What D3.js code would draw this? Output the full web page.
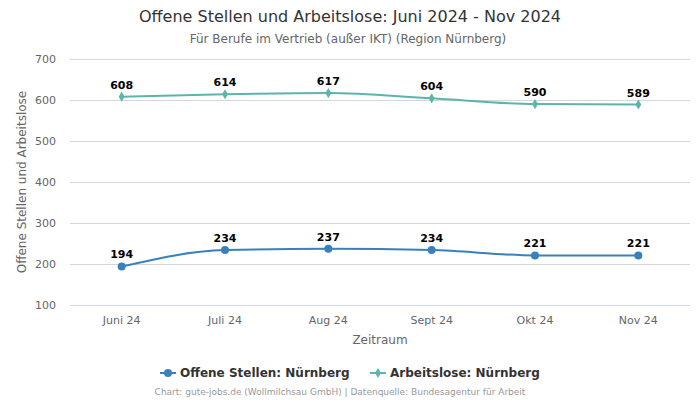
<!DOCTYPE html>
<html><head><meta charset="utf-8">
<script src="https://cdn.jsdelivr.net/npm/d3@7"></script>
<style>body{margin:0;background:#fff;font-family:"DejaVu Sans",sans-serif}</style>
</head><body><svg id="c" width="700" height="400"></svg>
<script>
const categories = ["Juni 24","Juli 24","Aug 24","Sept 24","Okt 24","Nov 24"];
const offeneStellen = [194,234,237,234,221,221];
const arbeitslose = [608,614,617,604,590,589];
const yTicks = [100,200,300,400,500,600,700];
const seriesNames = ["Offene Stellen: Nürnberg","Arbeitslose: Nürnberg"];
const colors = ["#3a80bd","#5bb5ad"];

const svg = d3.select("#c");
const m = {l:70,r:690,t:59,b:305};
const x = d3.scaleBand().domain(categories).range([m.l,m.r]);
const y = d3.scaleLinear().domain([100,700]).range([m.b,m.t]);
const cx = d => x(d) + x.bandwidth()/2;

svg.append("text").attr("x",350).attr("y",22).attr("text-anchor","middle")
  .attr("font-size",16).attr("fill","#333").text("Offene Stellen und Arbeitslose: Juni 2024 - Nov 2024");
svg.append("text").attr("x",348).attr("y",43).attr("text-anchor","middle")
  .attr("font-size",12).attr("fill","#666").text("Für Berufe im Vertrieb (außer IKT) (Region Nürnberg)");

// grid
svg.append("g").selectAll("line").data(yTicks.slice(1)).join("line")
  .attr("x1",m.l).attr("x2",m.r).attr("y1",d=>y(d)).attr("y2",d=>y(d))
  .attr("stroke","#d6d6d6").attr("stroke-width",1).attr("shape-rendering","crispEdges");
svg.append("line").attr("x1",m.l).attr("x2",m.r).attr("y1",y(100)).attr("y2",y(100))
  .attr("stroke","#ccd6eb").attr("shape-rendering","crispEdges");

const ya = svg.append("g").attr("transform",`translate(${m.l},0)`)
  .call(d3.axisLeft(y).tickValues(yTicks).tickSize(0).tickPadding(14));
ya.select(".domain").remove();
ya.selectAll("text").attr("font-size",11).attr("fill","#666").attr("font-family","DejaVu Sans");

const xa = svg.append("g").attr("transform",`translate(0,${m.b})`)
  .call(d3.axisBottom(x).tickSize(0).tickPadding(11));
xa.select(".domain").remove();
xa.selectAll("text").attr("font-size",11).attr("fill","#666").attr("font-family","DejaVu Sans");

svg.append("text").attr("x",380).attr("y",344).attr("text-anchor","middle")
  .attr("font-size",12).attr("fill","#666").text("Zeitraum");
svg.append("text").attr("transform","translate(26,182) rotate(-90)").attr("text-anchor","middle")
  .attr("font-size",12).attr("fill","#666").text("Offene Stellen und Arbeitslose");

const line = d3.line().x((d,i)=>cx(categories[i])).y(d=>y(d)).curve(d3.curveMonotoneX);
[offeneStellen, arbeitslose].forEach((vals,si)=>{
  svg.append("path").attr("d",line(vals)).attr("fill","none").attr("stroke",colors[si]).attr("stroke-width",2);
  const g = svg.append("g");
  vals.forEach((v,i)=>{
    if(si===0) g.append("circle").attr("cx",cx(categories[i])).attr("cy",y(v)).attr("r",4).attr("fill",colors[si]);
    else g.append("path").attr("d",d3.symbol(d3.symbolDiamond,30)()).attr("transform",`translate(${cx(categories[i])},${y(v)})`).attr("fill",colors[si]);
    g.append("text").attr("x",cx(categories[i])).attr("y",y(v)-8).attr("text-anchor","middle")
      .attr("font-size",11).attr("font-weight","bold").attr("fill","#000").text(v);
  });
});

// legend
const lg = svg.append("g");
const items = [{x:160,name:seriesNames[0],c:colors[0],t:"circle"},{x:370,name:seriesNames[1],c:colors[1],t:"diamond"}];
items.forEach(it=>{
  lg.append("line").attr("x1",it.x).attr("x2",it.x+16).attr("y1",373).attr("y2",373).attr("stroke",it.c).attr("stroke-width",2);
  if(it.t==="circle") lg.append("circle").attr("cx",it.x+8).attr("cy",373).attr("r",4).attr("fill",it.c);
  else lg.append("path").attr("d",d3.symbol(d3.symbolDiamond,30)()).attr("transform",`translate(${it.x+8},373)`).attr("fill",it.c);
  lg.append("text").attr("x",it.x+20).attr("y",377).attr("font-size",12).attr("font-weight","bold").attr("fill","#333").text(it.name);
});
svg.append("text").attr("x",340).attr("y",395).attr("text-anchor","middle")
  .attr("font-size",9).attr("fill","#999").text("Chart: gute-jobs.de (Wollmilchsau GmbH) | Datenquelle: Bundesagentur für Arbeit");
</script></body></html>
